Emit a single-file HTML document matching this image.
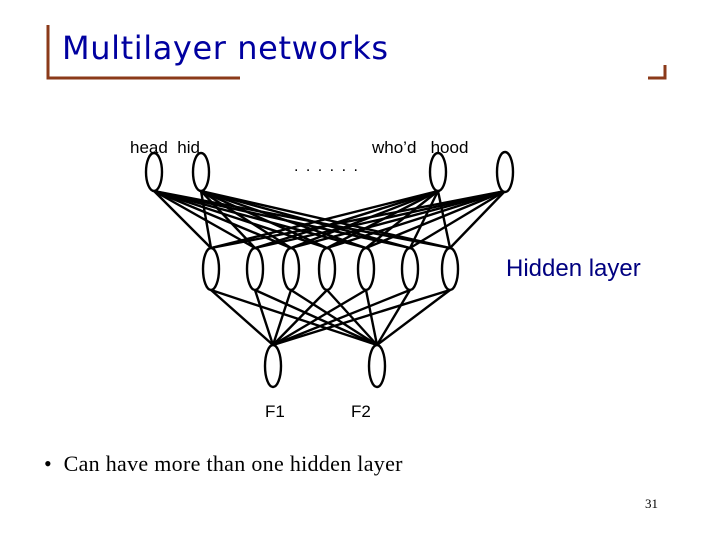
<!DOCTYPE html>
<html><head><meta charset="utf-8"><style>
body{margin:0;width:720px;height:540px;background:#fff;position:relative;overflow:hidden;font-family:"Liberation Sans",sans-serif}
.t{position:absolute;white-space:nowrap}
</style></head><body>
<svg width="720" height="540" style="position:absolute;left:0;top:0">
<g stroke="#8b3a1a" stroke-width="3" fill="none">
<polyline points="48,25 48,78 240,78"/>
<polyline points="648,78 665,78 665,65"/>
</g>
<g stroke="#000" stroke-width="2.4">
<line x1="154" y1="191" x2="211" y2="248"/><line x1="154" y1="191" x2="255" y2="248"/><line x1="154" y1="191" x2="291" y2="248"/><line x1="154" y1="191" x2="327" y2="248"/><line x1="154" y1="191" x2="366" y2="248"/><line x1="154" y1="191" x2="410" y2="248"/><line x1="154" y1="191" x2="450" y2="248"/>
<line x1="201" y1="191" x2="211" y2="248"/><line x1="201" y1="191" x2="255" y2="248"/><line x1="201" y1="191" x2="291" y2="248"/><line x1="201" y1="191" x2="327" y2="248"/><line x1="201" y1="191" x2="366" y2="248"/><line x1="201" y1="191" x2="410" y2="248"/><line x1="201" y1="191" x2="450" y2="248"/>
<line x1="438" y1="191" x2="211" y2="248"/><line x1="438" y1="191" x2="255" y2="248"/><line x1="438" y1="191" x2="291" y2="248"/><line x1="438" y1="191" x2="327" y2="248"/><line x1="438" y1="191" x2="366" y2="248"/><line x1="438" y1="191" x2="410" y2="248"/><line x1="438" y1="191" x2="450" y2="248"/>
<line x1="505" y1="191" x2="211" y2="248"/><line x1="505" y1="191" x2="255" y2="248"/><line x1="505" y1="191" x2="291" y2="248"/><line x1="505" y1="191" x2="327" y2="248"/><line x1="505" y1="191" x2="366" y2="248"/><line x1="505" y1="191" x2="410" y2="248"/><line x1="505" y1="191" x2="450" y2="248"/>
<line x1="211" y1="290" x2="273" y2="345"/><line x1="255" y1="290" x2="273" y2="345"/><line x1="291" y1="290" x2="273" y2="345"/><line x1="327" y1="290" x2="273" y2="345"/><line x1="366" y1="290" x2="273" y2="345"/><line x1="410" y1="290" x2="273" y2="345"/><line x1="450" y1="290" x2="273" y2="345"/>
<line x1="211" y1="290" x2="377" y2="345"/><line x1="255" y1="290" x2="377" y2="345"/><line x1="291" y1="290" x2="377" y2="345"/><line x1="327" y1="290" x2="377" y2="345"/><line x1="366" y1="290" x2="377" y2="345"/><line x1="410" y1="290" x2="377" y2="345"/><line x1="450" y1="290" x2="377" y2="345"/>
</g>
<g stroke="#000" stroke-width="2.4" fill="#fff">
<ellipse cx="154" cy="172" rx="8" ry="19"/><ellipse cx="201" cy="172" rx="8" ry="19"/><ellipse cx="438" cy="172" rx="8" ry="19"/><ellipse cx="505" cy="172" rx="8" ry="20"/>
<ellipse cx="211" cy="269" rx="8" ry="21"/><ellipse cx="255" cy="269" rx="8" ry="21"/><ellipse cx="291" cy="269" rx="8" ry="21"/><ellipse cx="327" cy="269" rx="8" ry="21"/><ellipse cx="366" cy="269" rx="8" ry="21"/><ellipse cx="410" cy="269" rx="8" ry="21"/><ellipse cx="450" cy="269" rx="8" ry="21"/>
<ellipse cx="273" cy="366" rx="8" ry="21"/><ellipse cx="377" cy="366" rx="8" ry="21"/>
</g>
</svg>
<div class="t" style="left:62px;top:29px;font-family:'DejaVu Sans',sans-serif;font-size:32px;color:#0000a0;letter-spacing:0.6px">Multilayer networks</div>
<div class="t" style="left:130px;top:138px;font-size:17px">head&nbsp; hid</div>
<div class="t" style="left:372px;top:138px;font-size:17px">who’d&nbsp;&nbsp; hood</div>
<div class="t" style="left:294px;top:158px;font-size:16px;letter-spacing:1.5px">. . . . . .</div>
<div class="t" style="left:506px;top:255px;font-size:24px;color:#000080">Hidden layer</div>
<div class="t" style="left:265px;top:402px;font-size:17px">F1</div>
<div class="t" style="left:351px;top:402px;font-size:17px">F2</div>
<div class="t" style="left:44px;top:451px;font-family:'Liberation Serif',serif;font-size:22px;letter-spacing:0.3px">•&nbsp; Can have more than one hidden layer</div>
<div class="t" style="left:645px;top:496px;font-family:'Liberation Serif',serif;font-size:13px">31</div>
</body></html>
